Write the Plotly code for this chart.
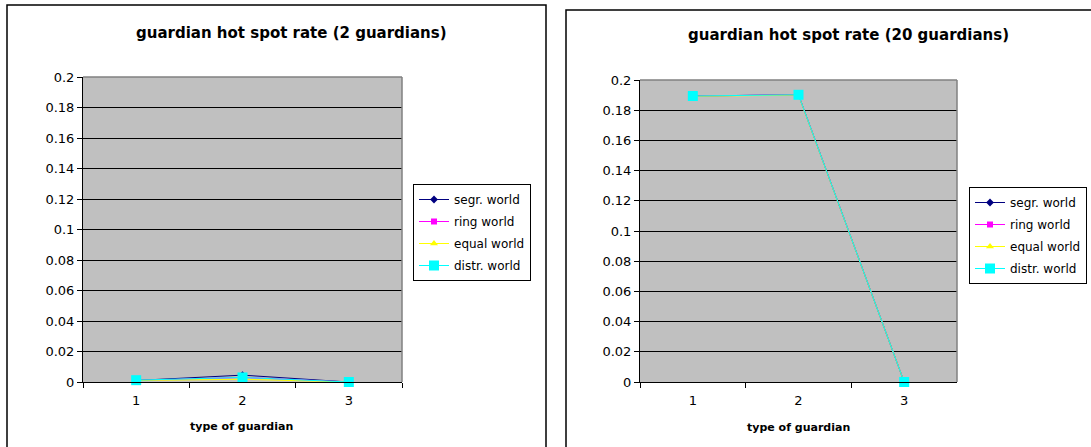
import plotly.graph_objects as go

categories = ["1", "2", "3"]
series_names = ["segr. world", "ring world", "equal world", "distr. world"]

# 2 guardians
segr_2 = [0.001, 0.0045, 0.0]
ring_2 = [0.001, 0.003, 0.0]
equal_2 = [0.001, 0.0018, 0.0]
distr_2 = [0.0012, 0.003, 0.0]

# 20 guardians
segr_20 = [0.1894, 0.1902, 0.0]
ring_20 = [0.1894, 0.1902, 0.0]
equal_20 = [0.1892, 0.1900, 0.0]
distr_20 = [0.1894, 0.1902, 0.0]

y_ticks = [0, 0.02, 0.04, 0.06, 0.08, 0.1, 0.12, 0.14, 0.16, 0.18, 0.2]
y_tick_labels = ["0", "0.02", "0.04", "0.06", "0.08", "0.1", "0.12", "0.14", "0.16", "0.18", "0.2"]

W, H = 1091, 447
FONT = "DejaVu Sans"

styles = [
    dict(color="#000080", symbol="diamond", size=6),
    dict(color="#FF00FF", symbol="square", size=6),
    dict(color="#FFFF00", symbol="triangle-up", size=7),
    dict(color="#00FFFF", symbol="square", size=10),
]

fig = go.Figure()

def add_series(data, xa, ya, legend, tag):
    for i, (name, vals, st) in enumerate(zip(series_names, data, styles)):
        fig.add_trace(go.Scatter(
            x=categories, y=vals, name=name, mode="lines+markers",
            line=dict(color=st["color"], width=1),
            marker=dict(color=st["color"], symbol=st["symbol"], size=st["size"], line=dict(width=0)),
            xaxis=xa, yaxis=ya, legend=legend, legendgroup=f"{tag}{i}", cliponaxis=False,
        ))

add_series([segr_2, ring_2, equal_2, distr_2], "x", "y", "legend", "a")
add_series([segr_20, ring_20, equal_20, distr_20], "x2", "y2", "legend2", "b")

def px(x):
    return x / W

def py(y):
    return 1 - y / H

xcommon = dict(type="category", tickson="boundaries", ticks="outside", ticklen=5,
               tickcolor="black", showline=True, linecolor="black", linewidth=1,
               showgrid=False, range=[-0.5, 2.5], ticklabelstandoff=6, automargin=False,
               tickfont=dict(family=FONT, size=13, color="black"), fixedrange=True)
ycommon = dict(range=[0, 0.2], tickvals=y_ticks, ticktext=y_tick_labels, ticks="outside",
               ticklen=5, tickcolor="black", showline=True, linecolor="black", linewidth=1,
               showgrid=True, gridcolor="black", gridwidth=1, zeroline=False, automargin=False,
               tickfont=dict(family=FONT, size=13, color="black"), fixedrange=True)

L = dict(x0=83, x1=402, y0=77, y1=382)
R = dict(x0=640, x1=957, y0=80, y1=382)

legend_common = dict(xanchor="left", yanchor="top", bgcolor="white", bordercolor="black",
                     borderwidth=1, font=dict(family=FONT, size=12, color="black"),
                     itemwidth=30, tracegroupgap=3, entrywidth=88, entrywidthmode="pixels")

fig.update_layout(
    width=W, height=H,
    margin=dict(l=0, r=0, t=0, b=0, autoexpand=False),
    paper_bgcolor="white",
    plot_bgcolor="#C0C0C0",
    showlegend=True,
    xaxis=dict(domain=[px(L["x0"]), px(L["x1"])], anchor="y", **xcommon),
    yaxis=dict(domain=[py(L["y1"]), py(L["y0"])], anchor="x", **ycommon),
    xaxis2=dict(domain=[px(R["x0"]), px(R["x1"])], anchor="y2", **xcommon),
    yaxis2=dict(domain=[py(R["y1"]), py(R["y0"])], anchor="x2", **ycommon),
    legend=dict(x=px(413), y=py(184), **legend_common),
    legend2=dict(x=px(969), y=py(187), **legend_common),
)

shapes = [
    # chart frames
    dict(type="rect", xref="paper", yref="paper", x0=px(7), x1=px(546), y0=py(460), y1=py(5),
         line=dict(color="black", width=1.5), fillcolor="rgba(0,0,0,0)", layer="below"),
    dict(type="rect", xref="paper", yref="paper", x0=px(566), x1=px(1100), y0=py(460), y1=py(10),
         line=dict(color="black", width=1.5), fillcolor="rgba(0,0,0,0)", layer="below"),
    # gray plot-area borders (top/right)
    dict(type="line", xref="paper", yref="paper", x0=px(L["x0"]), x1=px(L["x1"]), y0=py(L["y0"]), y1=py(L["y0"]),
         line=dict(color="#808080", width=1.5)),
    dict(type="line", xref="paper", yref="paper", x0=px(L["x1"]), x1=px(L["x1"]), y0=py(L["y0"]), y1=py(L["y1"]),
         line=dict(color="#808080", width=1.5)),
    dict(type="line", xref="paper", yref="paper", x0=px(R["x0"]), x1=px(R["x1"]), y0=py(R["y0"]), y1=py(R["y0"]),
         line=dict(color="#808080", width=1.5)),
    dict(type="line", xref="paper", yref="paper", x0=px(R["x1"]), x1=px(R["x1"]), y0=py(R["y0"]), y1=py(R["y1"]),
         line=dict(color="#808080", width=1.5)),
]

annotations = [
    dict(text="<b>guardian hot spot rate (2 guardians)</b>", x=px(291), y=py(33),
         xref="paper", yref="paper", showarrow=False, xanchor="center", yanchor="middle",
         font=dict(family=FONT, size=15, color="black")),
    dict(text="<b>guardian hot spot rate (20 guardians)</b>", x=px(848), y=py(35),
         xref="paper", yref="paper", showarrow=False, xanchor="center", yanchor="middle",
         font=dict(family=FONT, size=15, color="black")),
    dict(text="<b>type of guardian</b>", x=px(241), y=py(426),
         xref="paper", yref="paper", showarrow=False, xanchor="center", yanchor="middle",
         font=dict(family=FONT, size=11, color="black")),
    dict(text="<b>type of guardian</b>", x=px(798), y=py(427),
         xref="paper", yref="paper", showarrow=False, xanchor="center", yanchor="middle",
         font=dict(family=FONT, size=11, color="black")),
]

fig.update_layout(shapes=shapes, annotations=annotations)

fig.write_html("out.html", config={"displayModeBar": False})
